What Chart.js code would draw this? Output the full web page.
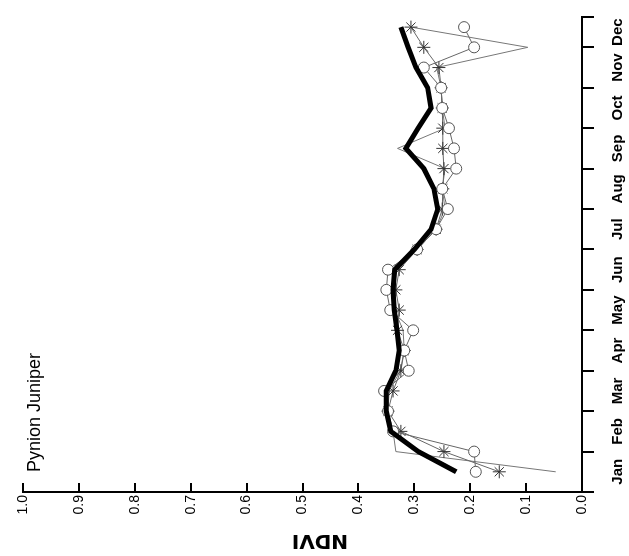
<!DOCTYPE html>
<html>
<head>
<meta charset="utf-8">
<title>Pynion Juniper NDVI</title>
<script src="https://cdn.jsdelivr.net/npm/chart.js@4.4.1/dist/chart.umd.min.js"></script>
<style>
  html, body { margin: 0; padding: 0; background: #fff; overflow: hidden; }
  #wrap { position: relative; width: 629px; height: 556px; overflow: hidden; }
  /* the figure is published turned a quarter turn to the left */
  #chart { position: absolute; left: 0; top: 0; transform-origin: 0 0; transform: translateY(556px) rotate(-90deg); }
</style>
</head>
<body>
<div id="wrap"><canvas id="chart" width="556" height="629"></canvas></div>
<script>
// --- DATA ---
const siteName = "Pynion Juniper";
const months = ["Jan", "Feb", "Mar", "Apr", "May", "Jun", "Jul", "Aug", "Sep", "Oct", "Nov", "Dec"];
const ndviTicks = [0, 0.1, 0.2, 0.3, 0.4, 0.5, 0.6, 0.7, 0.8, 0.9, 1.0];

// NDVI per composite period, two periods per month
const ndviMean = [0.225, 0.293, 0.342, 0.350, 0.350, 0.333, 0.327, 0.331, 0.336, 0.338, 0.335, 0.300,
  0.270, 0.258, 0.265, 0.283, 0.315, 0.293, 0.270, 0.276, 0.297, 0.311, 0.324];
const ndviCircle = [0.190, 0.193, 0.338, 0.347, 0.354, 0.310, 0.318, 0.302, 0.343, 0.350, 0.347, 0.295,
  0.261, 0.240, 0.250, 0.225, 0.229, 0.238, 0.250, 0.252, 0.283, 0.193, 0.211];
const ndviStar = [0.148, 0.247, 0.324, 0.347, 0.338, 0.324, 0.318, 0.330, 0.327, 0.333, 0.327, 0.295,
  0.261, 0.250, 0.249, 0.247, 0.249, 0.249, 0.250, 0.252, 0.256, 0.283, 0.306];
const ndviPlain = [0.047, 0.333, 0.338, 0.347, 0.345, 0.325, 0.318, 0.320, 0.335, 0.340, 0.335, 0.295,
  0.261, 0.245, 0.250, 0.245, 0.330, 0.245, 0.250, 0.252, 0.260, 0.097, 0.306];

// --- AXIS SETUP ---
const axisEnd = 22.5; // last period plus half a step
const monthStarts = months.map((_, i) => 2 * i - 1);
const boundaries = [...monthStarts, axisEnd];
const labelAt = new Map();
monthStarts.forEach((start, i) => {
  const end = Math.min(start + 2, axisEnd);
  labelAt.set((start + end) / 2, months[i]);
});
const xTickValues = [...boundaries, ...labelAt.keys()].sort((a, b) => a - b);

const narrowFont = '"Liberation Sans Narrow", "Arial Narrow", "Liberation Sans", Arial, sans-serif';

const toPoints = (values) => values.map((v, i) => ({ x: i, y: v }));

// site name sits inside the top-left corner of the plot
const siteLabel = {
  id: "siteLabel",
  afterDraw(chart) {
    const { ctx, chartArea } = chart;
    ctx.save();
    ctx.font = '18px "Liberation Sans", Arial, sans-serif';
    ctx.fillStyle = "#000";
    ctx.textBaseline = "alphabetic";
    ctx.fillText(siteName, chartArea.left + 20, chartArea.top + 17);
    ctx.restore();
  },
};

new Chart(document.getElementById("chart"), {
  type: "line",
  data: {
    datasets: [
      {
        label: "Mean",
        data: toPoints(ndviMean),
        borderColor: "#000",
        borderWidth: 5,
        pointRadius: 0,
        tension: 0,
      },
      {
        label: "Circles",
        data: toPoints(ndviCircle),
        borderColor: "#666",
        borderWidth: 1,
        pointStyle: "circle",
        pointRadius: 5.5,
        pointBackgroundColor: "#fff",
        pointBorderColor: "#555",
        pointBorderWidth: 1,
      },
      {
        label: "Stars",
        data: toPoints(ndviStar),
        borderColor: "#666",
        borderWidth: 1,
        pointStyle: "star",
        pointRadius: 6.5,
        pointBorderColor: "#333",
        pointBorderWidth: 1,
      },
      {
        label: "Plain",
        data: toPoints(ndviPlain),
        borderColor: "#777",
        borderWidth: 1,
        pointRadius: 0,
      },
    ],
  },
  options: {
    responsive: false,
    animation: false,
    layout: { padding: { top: 23, right: 17, left: 0, bottom: 0 } },
    plugins: { legend: { display: false }, tooltip: { enabled: false } },
    scales: {
      x: {
        type: "linear",
        min: -1,
        max: axisEnd,
        afterBuildTicks: (scale) => { scale.ticks = xTickValues.map((v) => ({ value: v })); },
        afterFit: (scale) => { scale.height = 47; },
        grid: {
          drawOnChartArea: false,
          tickLength: 12,
          lineWidth: 2,
          color: (c) => (c.tick && boundaries.includes(c.tick.value) ? "#000" : "rgba(0,0,0,0)"),
        },
        border: { color: "#000", width: 2 },
        ticks: {
          autoSkip: false,
          maxRotation: 0,
          minRotation: 0,
          padding: 15,
          color: "#000",
          font: { family: narrowFont, size: 15, weight: "bold" },
          callback: (v) => labelAt.get(v) ?? "",
        },
      },
      y: {
        min: 0,
        max: 1,
        afterBuildTicks: (scale) => { scale.ticks = ndviTicks.map((v) => ({ value: v })); },
        afterFit: (scale) => { scale.width = 64; },
        grid: { drawOnChartArea: false, tickLength: -9, lineWidth: 2, color: "#000" },
        border: { color: "#000", width: 2 },
        ticks: {
          padding: 12,
          color: "#000",
          font: { family: narrowFont, size: 14 },
          callback: (v) => v.toFixed(1),
        },
        title: {
          display: true,
          // trailing spaces nudge the label below the axis midpoint, as in the source figure
          text: "NDVI     ",
          color: "#000",
          font: { family: '"DejaVu Sans", sans-serif', size: 20, weight: "bold" },
          padding: { top: 4, bottom: 0 },
        },
      },
    },
  },
  plugins: [siteLabel],
});
</script>
</body>
</html>
